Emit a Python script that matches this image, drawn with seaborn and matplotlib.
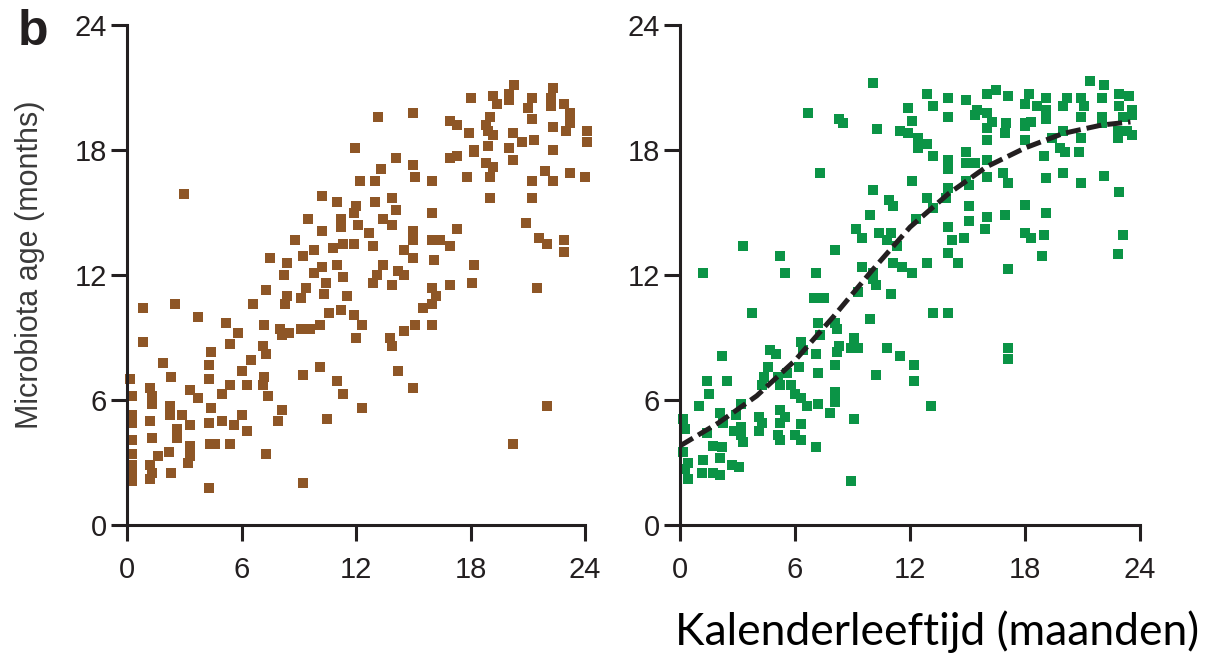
import matplotlib
matplotlib.use("Agg")
import matplotlib.pyplot as plt
import seaborn as sns

# Left panel (brown): calendar age vs microbiota age
left_x = [13.15, 11.95, 14.1, 13.3, 12.2, 13.0, 3.0, 10.2, 11.0, 13.0, 13.9, 12.0, 11.9, 14.1,
          9.5, 11.2, 12.1, 13.4, 13.9, 10.2, 11.2, 12.7, 8.8, 11.3, 11.9, 12.9, 9.8, 10.8, 9.2,
          7.5, 8.4, 10.2, 11.0, 13.4, 8.2, 9.8, 11.3, 13.1, 14.2, 10.4, 12.9, 7.3, 8.4, 9.4, 10.3,
          11.5, 13.9,
          9.1, 0.85, 2.5, 6.6, 8.3, 10.6, 11.2, 11.9, 3.7, 5.2, 7.2, 12.3, 5.8, 8.0, 8.5, 9.1, 9.6,
          10.1, 8.1, 12.0, 13.8, 13.9, 0.85, 5.4, 7.1, 4.4, 7.3, 6.5, 1.9, 4.3, 10.1, 6.0, 14.2,
          9.2, 0.15, 2.3, 4.3, 7.2, 11.0, 1.2, 3.3, 5.4, 6.3, 7.1, 5.0, 11.3, 0.25, 1.3, 3.7, 7.4,
          1.3, 2.25, 4.4, 8.1, 12.3, 0.25, 2.25, 2.9, 6.0, 0.25, 1.2, 3.3, 4.3, 5.0, 5.6, 7.9,
          10.5, 2.6, 6.3, 0.25, 1.3, 2.6, 3.3, 4.35, 4.6, 5.4, 0.25, 1.6, 2.2, 3.3, 7.3, 0.25,
          1.2, 3.2, 0.25, 1.3, 2.3, 0.25, 1.2, 4.3, 9.2,
          20.3, 22.3, 18.0, 19.2, 20.0, 19.4, 20.0, 21.2, 22.2, 21.0, 22.2, 22.9, 15.0, 19.0,
          21.2, 23.2, 16.9, 17.3, 18.8, 23.2, 23.0, 17.9, 18.9, 19.2, 20.2, 22.3, 24.1, 24.1,
          18.9, 20.0, 20.7, 21.3, 18.2, 22.3, 15.0, 16.9, 17.3, 18.2, 18.8, 19.2, 20.2, 21.9,
          15.1, 16.0, 17.8, 19.0, 21.2, 22.3, 23.2, 24.0, 19.0, 21.2, 16.0, 15.0, 15.0, 17.3,
          20.9, 16.0, 16.4, 16.9, 21.6, 22.0, 22.9, 22.9, 14.5, 15.0, 16.1, 18.2, 14.5, 16.0,
          16.9, 18.1, 21.5, 16.2,
          15.5, 16.0, 15.1, 14.5, 16.0, 15.0, 22.0, 20.2]
left_y = [19.6, 18.1, 17.6, 17.1, 16.5, 16.5, 15.9, 15.8, 15.5, 15.5, 15.7, 15.3, 15.0, 15.1,
          14.7, 14.7, 14.4, 14.7, 14.4, 14.1, 14.3, 14.0, 13.7, 13.5, 13.5, 13.4, 13.2, 13.3, 12.9,
          12.8, 12.6, 12.4, 12.5, 12.5, 12.0, 12.1, 11.9, 12.0, 12.2, 11.6, 11.6, 11.3, 11.0, 11.4,
          11.1, 11.0, 11.5,
          10.9, 10.4, 10.6, 10.6, 10.6, 10.2, 10.3, 10.1, 10.0, 9.7, 9.6, 9.6, 9.2, 9.4, 9.2, 9.4,
          9.4, 9.6, 9.1, 9.0, 9.0, 8.6, 8.8, 8.7, 8.6, 8.3, 8.2, 7.9, 7.8, 7.7, 7.6, 7.4, 7.4, 7.2,
          7.0, 7.1, 7.0, 7.1, 6.9, 6.6, 6.5, 6.7, 6.7, 6.7, 6.3, 6.3, 6.2, 6.2, 6.1, 6.2, 5.8, 5.7,
          5.6, 5.5, 5.6, 5.3, 5.3, 5.3, 5.3, 4.9, 5.0, 4.8, 4.9, 5.0, 4.8, 5.0, 5.1, 4.6, 4.5, 4.1,
          4.2, 4.2, 3.8, 3.9, 3.9, 3.9, 3.4, 3.3, 3.5, 3.3, 3.4, 2.9, 2.9, 3.0, 2.5, 2.5, 2.5, 2.1,
          2.2, 1.8, 2.0,
          21.1, 21.0, 20.5, 20.6, 20.7, 20.2, 20.4, 20.5, 20.5, 20.0, 20.1, 20.2, 19.8, 19.6,
          19.5, 19.8, 19.4, 19.2, 19.2, 19.3, 18.9, 18.8, 18.9, 18.7, 18.8, 19.1, 18.9, 18.4,
          18.2, 18.1, 18.4, 18.5, 18.0, 18.0, 17.3, 17.6, 17.7, 17.9, 17.4, 17.2, 17.5, 17.0,
          16.7, 16.5, 16.7, 16.7, 16.5, 16.5, 16.9, 16.7, 15.7, 15.7, 15.0, 14.1, 13.7, 14.2,
          14.5, 13.7, 13.7, 13.4, 13.8, 13.5, 13.7, 13.1, 13.2, 12.8, 12.7, 12.5, 12.0, 11.4,
          11.5, 11.6, 11.4, 11.0,
          10.4, 10.6, 9.6, 9.3, 9.6, 6.6, 5.7, 3.9]

# Right panel (green) points
right_x = [10.07, 6.7, 8.3, 8.5, 11.9, 12.1, 10.3, 11.5, 11.9, 12.4, 12.4, 7.3, 12.1, 10.07,
           10.9, 11.1, 9.9, 12.3, 9.2, 10.4, 11.0, 9.5, 10.8, 11.3, 3.3, 8.1, 5.2, 1.2, 5.5, 7.1,
           9.5, 11.1, 11.6, 12.1, 10.07, 10.07, 10.2, 9.3, 11.0, 7.0, 7.5,
           3.75, 9.9, 7.2, 8.1, 7.3, 8.2, 9.1, 10.8, 8.3, 8.9, 9.3, 8.2, 6.3, 6.4, 4.7, 5.0, 7.1,
           2.2, 11.5, 12.2, 4.6, 6.2, 8.1, 5.6, 7.2, 10.2, 4.4, 5.1, 1.4, 2.45, 12.2, 4.3, 5.2,
           5.8, 1.5, 6.0, 8.1, 6.3, 3.2, 7.2, 8.1, 1.0, 6.6, 2.1, 2.9, 5.2, 7.8, 0.16, 4.1, 5.5,
           9.1, 2.25, 3.2, 4.3, 5.2, 6.3, 0.26, 1.4, 2.8, 4.1, 3.2, 5.1, 6.0, 6.3, 3.3, 5.2, 1.7,
           2.2, 7.1, 0.16, 1.2, 2.1, 0.4, 2.7, 3.1, 0.26, 1.15, 1.7, 2.1, 0.4, 8.9,
           21.4, 22.1, 12.9, 16.0, 16.5, 17.1, 18.2, 19.1, 20.2, 20.9, 22.0, 22.9, 23.4, 14.0,
           14.9, 13.2, 15.5, 16.0, 18.0, 18.6, 19.1, 20.0, 21.1, 22.9, 23.6, 14.0, 15.4, 16.3,
           17.0, 18.0, 18.3, 19.1, 20.9, 22.0, 23.1, 23.6, 16.0, 18.0, 16.95, 20.0, 22.0, 22.85,
           23.3, 23.6, 12.9, 16.0, 18.0, 19.4, 19.8, 20.1, 20.9, 20.8, 22.85, 13.2, 14.0, 14.9,
           14.9, 15.4, 16.0, 16.85, 16.0, 14.0, 19.0, 20.0, 19.1, 22.1, 14.0, 14.9, 15.1, 17.1,
           20.9, 22.9, 12.9, 13.9, 13.2, 15.1, 18.0, 19.1, 15.1, 16.0, 16.95, 14.0, 15.9, 14.2,
           14.8, 18.0, 18.3, 19.0, 23.1, 14.0, 14.5, 12.9, 17.1, 18.9, 22.85,
           13.2, 14.0, 17.1, 17.1, 13.1]
right_y = [21.2, 19.8, 19.5, 19.3, 20.0, 19.4, 19.0, 18.9, 18.8, 18.6, 18.1, 16.9, 16.5, 16.1,
           15.6, 15.3, 14.9, 14.7, 14.2, 14.0, 14.0, 13.8, 13.7, 13.4, 13.4, 13.2, 12.9, 12.1, 12.1,
           12.1, 12.4, 12.6, 12.4, 12.1, 12.1, 11.8, 11.5, 11.2, 11.1, 10.9, 10.9,
           10.2, 9.9, 9.7, 9.7, 9.1, 9.4, 9.0, 8.5, 8.6, 8.5, 8.5, 8.3, 8.8, 8.4, 8.4, 8.2, 8.2,
           8.1, 8.1, 7.7, 7.6, 7.6, 7.7, 7.3, 7.3, 7.2, 7.1, 7.1, 6.9, 6.9, 6.9, 6.7, 6.7, 6.7,
           6.3, 6.3, 6.4, 6.1, 5.8, 5.8, 5.9, 5.7, 5.7, 5.4, 5.3, 5.5, 5.4, 5.1, 5.2, 5.2, 5.1,
           4.9, 4.7, 4.9, 4.9, 4.85, 4.6, 4.4, 4.5, 4.5, 4.3, 4.3, 4.3, 4.1, 4.0, 4.1, 3.8, 3.75,
           3.75, 3.5, 3.1, 3.2, 3.0, 2.9, 2.8, 2.7, 2.5, 2.5, 2.4, 2.2, 2.1,
           21.3, 21.1, 20.7, 20.7, 20.9, 20.6, 20.7, 20.5, 20.5, 20.5, 20.5, 20.7, 20.6, 20.5,
           20.4, 20.1, 19.9, 19.8, 20.2, 20.1, 19.9, 20.1, 20.1, 20.1, 19.9, 19.6, 19.7, 19.35,
           19.3, 19.3, 19.35, 19.5, 19.6, 19.6, 19.6, 19.7, 19.05, 19.15, 18.8, 18.9, 19.3, 18.9,
           18.9, 18.7, 18.3, 18.5, 18.5, 18.6, 18.1, 17.9, 18.6, 17.9, 18.6, 17.7, 17.5, 17.9,
           17.4, 17.4, 17.5, 16.9, 16.7, 17.1, 17.7, 16.9, 16.65, 16.75, 16.2, 16.5, 16.3, 16.4,
           16.4, 16.0, 15.7, 15.7, 15.2, 15.3, 15.35, 15.0, 14.6, 14.8, 14.9, 14.3, 14.2, 13.7,
           13.8, 14.0, 13.8, 13.9, 13.9, 13.05, 12.6, 12.6, 12.3, 12.9, 13.0,
           10.2, 10.2, 8.5, 7.95, 5.7]

# fitted curve in right panel
fit_x = [0, 2, 4, 6, 8, 10, 12, 14, 16, 18, 20, 22, 23.5]
fit_y = [3.8, 4.9, 6.2, 7.9, 10.0, 12.2, 14.3, 15.9, 17.2, 18.1, 18.8, 19.2, 19.35]

ticks = [0, 6, 12, 18, 24]
ink = "#231F20"

sns.set_style("ticks")
plt.rcParams["font.family"] = ["Liberation Sans", "DejaVu Sans"]

fig = plt.figure(figsize=(12.24, 6.59), dpi=100)
ax1 = fig.add_axes([0.1038, 0.2033, 0.3742, 0.7587])
ax2 = fig.add_axes([0.5556, 0.2033, 0.3758, 0.7587])

sns.scatterplot(x=left_x, y=left_y, marker="s", s=44, color="#8E5626",
                linewidth=0, ax=ax1, clip_on=False)
sns.scatterplot(x=right_x, y=right_y, marker="s", s=44, color="#0B9446",
                linewidth=0, ax=ax2, clip_on=False)
sns.lineplot(x=fit_x, y=fit_y, ax=ax2, color=ink, linewidth=3.6,
             linestyle=(0, (3.0, 1.2)))

for ax in (ax1, ax2):
    ax.set_xlim(0, 24)
    ax.set_ylim(0, 24)
    ax.set_xticks(ticks)
    ax.set_yticks(ticks)
    sns.despine(ax=ax)
    for side in ("left", "bottom"):
        ax.spines[side].set_linewidth(2.2)
        ax.spines[side].set_color(ink)
    ax.tick_params(length=11.5, width=2.2, color=ink, labelcolor=ink, labelsize=21)
    ax.tick_params(axis="x", pad=11)
    ax.tick_params(axis="y", pad=3)
    for lab in ax.get_xticklabels() + ax.get_yticklabels():
        lab.set_family(["Liberation Sans", "DejaVu Sans"])

ax1.set_ylabel("Microbiota age (months)", fontsize=22, color="#3a3a3a",
               family=["Liberation Sans", "DejaVu Sans"])
ax1.yaxis.set_label_coords(-0.18, 0.52)

fig.text(0.0147, 0.9317, "b", fontsize=36, weight="bold", color=ink, va="baseline",
         family=["Liberation Sans", "DejaVu Sans"])
fig.text(675 / 1224, 0.021, "Kalenderleeftijd (maanden)", fontsize=32,
         family=["Lato", "DejaVu Sans"], color="black", va="baseline")

fig.savefig("out.png", dpi=100)
